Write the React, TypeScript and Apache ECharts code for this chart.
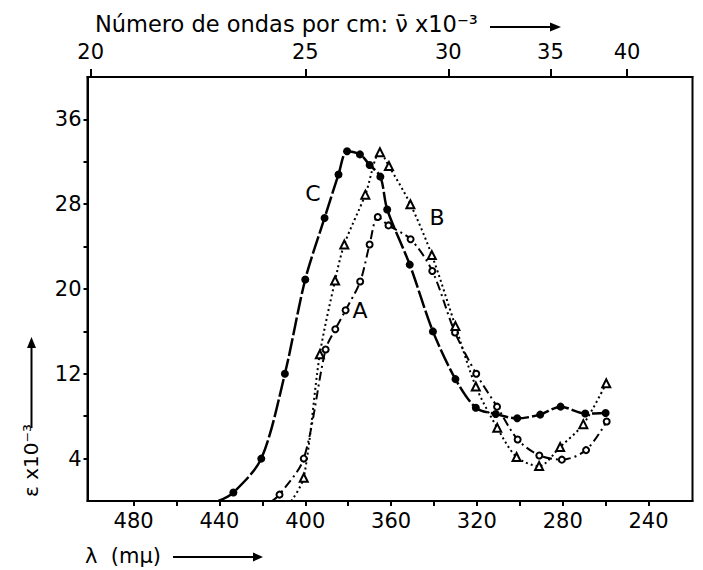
import React, { useEffect, useRef } from "react";
import * as echarts from "echarts";

// wavelength (mμ) and ε×10⁻³
const curveC: number[][] = [
  [433.5, 0.8], [420.5, 4.0], [409.5, 12.0], [400.0, 20.9], [391.0, 26.7], [384.5, 30.8],
  [380.5, 33.0], [374.5, 32.7], [370.0, 31.7], [365.0, 30.6], [361.8, 27.5], [351.3, 22.3],
  [340.5, 16.0], [330.0, 11.5], [320.5, 8.8], [311.2, 8.2], [301.2, 7.8], [290.5, 8.15],
  [281.0, 8.9], [269.5, 8.25], [260.0, 8.3],
];
const curveCStart: number[] = [440.5, 0];

const curveA: number[][] = [
  [412.0, 0.6], [400.7, 4.0], [390.5, 14.3], [386.0, 16.2], [381.2, 18.0], [374.4, 20.7],
  [370.0, 24.2], [366.2, 26.8], [361.2, 26.0], [350.9, 24.7], [340.8, 21.7], [330.2, 15.9],
  [320.3, 12.0], [310.6, 8.9], [301.0, 5.8], [290.9, 4.3], [280.4, 3.9], [269.1, 4.8],
  [259.5, 7.5],
];
const curveAStart: number[] = [415.5, 0];

const curveB: number[][] = [
  [400.7, 2.2], [393.2, 13.85], [386.1, 20.8], [381.8, 24.2], [372.0, 28.9], [365.2, 32.9],
  [361.0, 31.6], [351.0, 28.0], [341.0, 23.2], [330.0, 16.5], [320.5, 10.8], [310.5, 6.9],
  [301.5, 4.15], [291.0, 3.3], [281.2, 5.1], [270.4, 7.25], [259.7, 11.1],
];
const curveBStart: number[] = [406.5, 0];

const lambdaTicks: number[] = [480, 460, 440, 420, 400, 380, 360, 340, 320, 300, 280, 260, 240];
const lambdaLabels: number[] = [480, 440, 400, 360, 320, 280, 240];
const waveNumberLabels: number[] = [20, 25, 30, 35, 40];
const epsTicks: number[] = [4, 8, 12, 16, 20, 24, 28, 32, 36];
const epsLabels: number[] = [4, 12, 20, 28, 36];

const FONT = "DejaVu Sans";

export default function App() {
  const ref = useRef<HTMLDivElement>(null);
  useEffect(() => {
    document.body.style.margin = "0";
    if (!ref.current) return;
    const chart = echarts.init(ref.current, null, { renderer: "svg" });
    const waveTickPos = waveNumberLabels.map((v) => 10000 / v);
    const withStart = (start: number[], pts: number[][]) => [
      { value: start, symbol: "none" },
      ...pts.map((p) => ({ value: p })),
    ];
    const option: any = {
      animation: false,
      backgroundColor: "#fff",
      grid: {
        left: 87.5, right: 10.5, top: 77, bottom: 69,
        show: true, borderColor: "#000", borderWidth: 2,
        outerBoundsMode: "none",
      },
      xAxis: [
        {
          type: "value", position: "bottom", inverse: true, min: 219.5, max: 501.5,
          axisLine: { show: true, lineStyle: { color: "#000", width: 2 } },
          axisTick: { show: true, customValues: lambdaTicks, length: 5, lineStyle: { color: "#000", width: 2 } },
          axisLabel: { customValues: lambdaLabels, color: "#000", fontSize: 21, fontFamily: FONT, margin: 9 },
          splitLine: { show: false },
        },
        {
          type: "value", position: "top", inverse: true, min: 219.5, max: 501.5,
          axisLine: { show: true, lineStyle: { color: "#000", width: 2 } },
          axisTick: { show: true, customValues: waveTickPos, length: 8, lineStyle: { color: "#000", width: 2 } },
          axisLabel: {
            customValues: waveTickPos, color: "#000", fontSize: 21, fontFamily: FONT, margin: 15,
            formatter: (v: number) => String(Math.round(10000 / v)),
          },
          splitLine: { show: false },
        },
      ],
      yAxis: [
        {
          type: "value", min: 0, max: 40,
          axisLine: { show: true, lineStyle: { color: "#000", width: 2 } },
          axisTick: { show: true, customValues: epsTicks, length: 4, lineStyle: { color: "#000", width: 2 } },
          axisLabel: { customValues: epsLabels, color: "#000", fontSize: 21, fontFamily: FONT, margin: 6 },
          splitLine: { show: false },
        },
      ],
      series: [
        {
          name: "C", type: "line", smooth: 0.3, xAxisIndex: 0,
          data: withStart(curveCStart, curveC),
          symbol: "circle", symbolSize: 8,
          itemStyle: { color: "#000" },
          lineStyle: { color: "#000", width: 2.5, type: [18, 3] },
          z: 3,
        },
        {
          name: "A", type: "line", smooth: 0.3, xAxisIndex: 0,
          data: withStart(curveAStart, curveA),
          symbol: "emptyCircle", symbolSize: 6,
          itemStyle: { color: "#000", borderColor: "#000", borderWidth: 1.6 },
          lineStyle: { color: "#000", width: 2, type: [9, 4, 2, 4] },
          z: 4,
        },
        {
          name: "B", type: "line", smooth: 0.3, xAxisIndex: 0,
          data: withStart(curveBStart, curveB),
          symbol: "emptyTriangle", symbolSize: 8,
          itemStyle: { color: "#000", borderColor: "#000", borderWidth: 1.6 },
          lineStyle: { color: "#000", width: 2, type: [2, 3] },
          z: 5,
        },
      ],
      graphic: [
        { type: "text", x: 313, y: 193, style: { text: "C", fill: "#000", font: `22px "${FONT}"`, align: "center", verticalAlign: "middle" } },
        { type: "text", x: 437, y: 217, style: { text: "B", fill: "#000", font: `22px "${FONT}"`, align: "center", verticalAlign: "middle" } },
        { type: "text", x: 360, y: 310, style: { text: "A", fill: "#000", font: `22px "${FONT}"`, align: "center", verticalAlign: "middle" } },
        // top title
        { type: "text", x: 95, y: 24, style: { text: "Número de ondas por cm: ν̄ x10⁻³", fill: "#000", font: `22.5px "${FONT}"`, align: "left", verticalAlign: "middle" } },
        { type: "line", shape: { x1: 490, y1: 27, x2: 552, y2: 27 }, style: { stroke: "#000", lineWidth: 2 } },
        { type: "polygon", shape: { points: [[550, 22.5], [561, 27], [550, 31.5]] }, style: { fill: "#000" } },
        // bottom title
        { type: "text", x: 85, y: 556, style: { text: "λ  (mμ)", fill: "#000", font: `21px "${FONT}"`, align: "left", verticalAlign: "middle" } },
        { type: "line", shape: { x1: 173, y1: 557, x2: 255, y2: 557 }, style: { stroke: "#000", lineWidth: 2 } },
        { type: "polygon", shape: { points: [[253, 552.5], [263, 557], [253, 561.5]] }, style: { fill: "#000" } },
        // y title
        { type: "text", x: 31, y: 497, rotation: Math.PI / 2, style: { text: "ε x10⁻³", fill: "#000", font: `20px "${FONT}"`, align: "left", verticalAlign: "middle" } },
        { type: "line", shape: { x1: 31.5, y1: 428, x2: 31.5, y2: 346 }, style: { stroke: "#000", lineWidth: 2 } },
        { type: "polygon", shape: { points: [[27, 348], [31.5, 337], [36, 348]] }, style: { fill: "#000" } },
      ],
    };
    chart.setOption(option);
    return () => chart.dispose();
  }, []);
  return <div ref={ref} style={{ width: 703, height: 570 }} />;
}
